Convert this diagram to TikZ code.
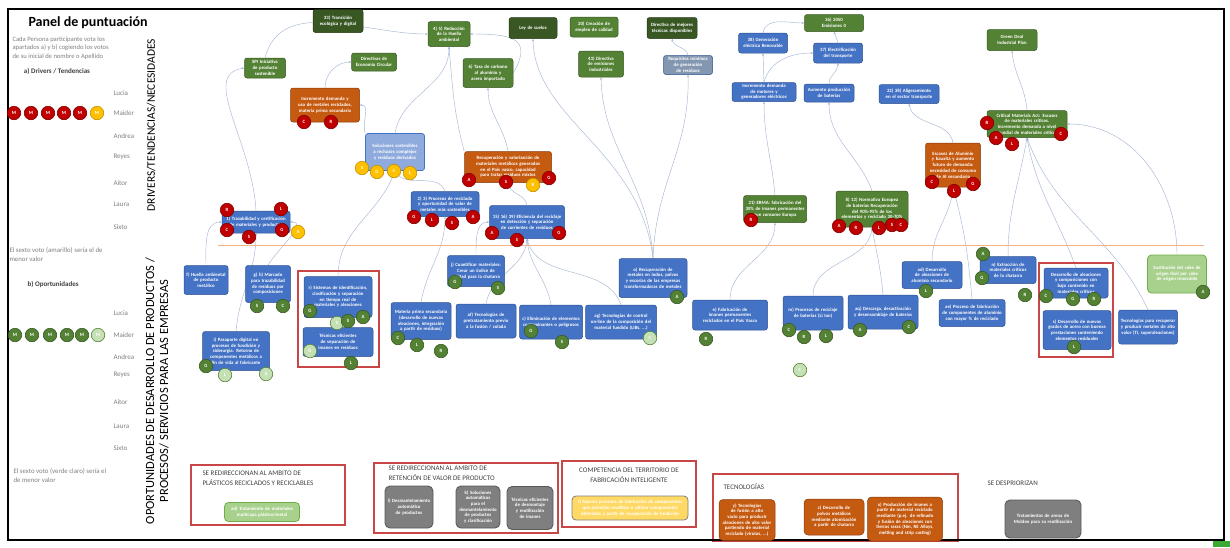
\documentclass[tikz,border=0pt]{standalone}
\usepackage{fontspec}
\setmainfont{Carlito}
\usetikzlibrary{arrows.meta,backgrounds}

\definecolor{colAzul}{HTML}{4472C4}
\definecolor{colAzulB}{HTML}{2F528F}
\definecolor{colAzulC}{HTML}{8FAADC}
\definecolor{colAzulGris}{HTML}{8497B0}
\definecolor{colVerde}{HTML}{548235}
\definecolor{colVerdeO}{HTML}{385723}
\definecolor{colVerdeOO}{HTML}{243A16}
\definecolor{colVerdeC}{HTML}{A9D18E}
\definecolor{colVerdeCC}{HTML}{C5E0B4}
\definecolor{colVerdeB}{HTML}{70AD47}
\definecolor{colNaranja}{HTML}{C55A11}
\definecolor{colNaranjaB}{HTML}{843C0C}
\definecolor{colNaranjaC}{HTML}{F4B183}
\definecolor{colRojo}{HTML}{C00000}
\definecolor{colRojoB}{HTML}{7F0000}
\definecolor{colAmarillo}{HTML}{FFC000}
\definecolor{colAmarilloB}{HTML}{BF9000}
\definecolor{colAmarilloC}{HTML}{FFD966}
\definecolor{colGris}{HTML}{7F7F7F}
\definecolor{colGrisB}{HTML}{595959}
\definecolor{colMarco}{RGB}{200,70,70}
\definecolor{colLinea}{HTML}{A4B6D3}
\definecolor{colTextoG}{HTML}{7F7F7F}
\definecolor{colTextoO}{HTML}{404040}
\definecolor{colMarca}{HTML}{3BAA35}

\newcommand{\letracaja}{\fontsize{4.8}{5.7}\selectfont\bfseries\hyphenpenalty=10000\exhyphenpenalty=10000}
\newcommand{\letravoto}{\fontsize{4.8}{5}\selectfont\bfseries}

\begin{document}
\begin{tikzpicture}[x=1pt,y=-1pt,
    caja/.style={rectangle,rounded corners=2.5pt,line width=0.5pt,text=white,align=center,inner sep=1pt,font=\letracaja},
    tam/.style 2 args={minimum width=#1pt,minimum height=#2pt,text width=#1pt-4pt},
    azul/.style={caja,fill=colAzul,draw=colAzulB},
    azulclaro/.style={caja,fill=colAzulC,draw=colAzul,line width=0.7pt},
    azulgris/.style={caja,fill=colAzulGris,draw=colAzulB},
    verde/.style={caja,fill=colVerde,draw=colVerdeO},
    verdeosc/.style={caja,fill=colVerdeO,draw=colVerdeOO},
    verdeclaro/.style={caja,rounded corners=4pt,fill=colVerdeC,draw=colVerdeB,line width=0.8pt},
    naranja/.style={caja,fill=colNaranja,draw=colNaranjaB},
    gris/.style={caja,rounded corners=5pt,fill=colGris,draw=colGrisB,line width=0.9pt},
    amarillo/.style={caja,rounded corners=4pt,fill=colAmarilloC,draw=colGris,line width=0.8pt},
    voto/.style={circle,minimum size=13.5pt,inner sep=0pt,line width=0.6pt,text=white,font=\letravoto},
    vrojo/.style={voto,fill=colRojo,draw=colRojoB},
    vamarillo/.style={voto,fill=colAmarillo,draw=colAmarilloB},
    vverde/.style={voto,fill=colVerde,draw=colVerdeO},
    vclaro/.style={voto,fill=colVerdeCC,draw=colVerde},
    recuadro/.style={colMarco,line width=1.2pt},
    seccion/.style={anchor=west,text=colTextoO,font=\fontsize{7}{10}\selectfont,align=left},
    nombre/.style={anchor=west,text=colTextoG,font=\fontsize{7}{8}\selectfont},
    nota/.style={anchor=north west,text=colTextoG,align=left},
    enlace/.style={draw=colLinea,line width=0.45pt,-{Stealth[length=2.6pt,width=2.2pt]}}]

    \useasboundingbox (0,0) rectangle (1230,547);
    % Recuadros rojos
    \foreach \xa/\ya/\xb/\yb in {298/271/379/367,1039/263/1113/357,191/465/345/525,374/463/558/533,562/461/696/527,713/474/958/541}
        \draw[recuadro] (\xa,\ya) rectangle (\xb,\yb);
    % Marco
    \draw[line width=1.5pt] (8,9) rectangle (1224,540);
    \fill[colMarca] (1213,541) rectangle (1230,547);

    % Panel de puntuacion
    \node[font=\fontsize{14}{16}\selectfont\bfseries] (titulo) at (88,23) {Panel de puntuación};
    \node[nota,font=\fontsize{6.6}{8.5}\selectfont] (instr) at (9,33) {Cada Persona participante vota los\\apartados a) y b) cogiendo los votos\\de su inicial de nombre o Apellido};
    \node[text=colTextoO,font=\fontsize{7}{8}\selectfont\bfseries] (tdriv) at (57,71) {a) Drivers / Tendencias};
    \foreach \n/\y in {Lucia/93,Maider/113,Andrea/136,Reyes/157,Aitor/183,Laura/204,Sixto/227}
        \node[nombre] (na\y) at (110,\y) {\n};
    \node[nota,font=\fontsize{6.8}{9}\selectfont] (sexto1) at (6,244) {El sexto voto (amarillo) sería el de\\menor valor};
    \node[anchor=west,text=colTextoO,font=\fontsize{7}{8}\selectfont\bfseries] (topor) at (24,284) {b) Oportunidades};
    \foreach \n/\y in {Lucia/313,Maider/335,Andrea/357,Reyes/375,Aitor/402,Laura/426,Sixto/448}
        \node[nombre] (nb\y) at (110,\y) {\n};
    \node[nota,font=\fontsize{6.8}{9}\selectfont] (sexto2) at (10,465) {El sexto voto (verde claro) sería el\\de menor valor};

    % Titulos verticales
    \node[rotate=90,font=\fontsize{11.5}{12}\selectfont] (ejedriv) at (151,125) {DRIVERS/TENDENCIAS/NECESIDADES};
    \node[rotate=90,align=center,font=\fontsize{12.5}{14}\selectfont] (ejeopor) at (157,391) {OPORTUNIDADES DE DESARROLLO DE PRODUCTOS /\\PROCESOS/ SERVICIOS PARA LAS EMPRESAS};

    % Separacion
    \draw[colNaranjaC,line width=0.9pt] (218,245) -- (1204,245);

    % Drivers / tendencias / necesidades
    \node[verdeosc,tam={50}{23}] (t33) at (338,21) {33) Transición ecológica y digital};
    \node[verde,tam={42}{25}] (t45) at (449,34) {4) 5) Reducción de la Huella ambiental};
    \node[verde,tam={41}{20}] (spi) at (265,68) {SPI Iniciativa de producto sostenible};
    \node[verde,tam={45}{18}] (dec) at (374,62) {Directivas de Economía Circular};
    \node[naranja,tam={69}{34}] (incm) at (325,105) {Incremento demanda y uso de metales reciclados, materia prima secundaria};
    \node[azulclaro,tam={59}{37}] (sol) at (395,152) {Soluciones sostenibles a rechazos complejos y residuos derivados};
    \node[azul,tam={68}{22}] (traz) at (256,222) {1) Trazabilidad y certificación de materiales y productos};
    \node[azul,tam={68}{25}] (proc) at (445,204) {2) 3) Procesos de reciclado y oportunidad de valor de metales más sostenibles};
    \node[verdeosc,tam={48}{21}] (ley) at (533,28) {Ley de suelos};
    \node[verde,tam={48}{20}] (emp) at (594,27) {20) Creación de empleo de calidad};
    \node[verdeosc,tam={50}{21}] (dmt) at (672,28) {Directiva de mejores técnicas disponibles};
    \node[verde,tam={50}{29}] (tasa) at (488,73) {6) Tasa de carbono al aluminio y acero importado};
    \node[verde,tam={45}{26}] (dei) at (601,64) {43) Directiva de emisiones industriales};
    \node[azulgris,tam={49}{19}] (req) at (688,65) {Requisitos mínimos de generación de residuos};
    \node[naranja,tam={87}{31}] (recu) at (508,167) {Recuperación y valorización de materiales metálicos generados en el País vasco, capacidad para tratar residuos mixtos};
    \node[azul,tam={75}{33}] (efic) at (527,222) {15) 16) 39) Eficiencia del reciclaje en detección y separación de corrientes de residuos};
    \node[verde,tam={59}{17}] (em0) at (834,23) {36) 2050\\Emisiones 0};
    \node[azul,tam={49}{20}] (gen) at (763,43) {38) Generación eléctrica Renovable};
    \node[azul,tam={49}{20}] (elec) at (838,53) {37) Electrificación del transporte};
    \node[azul,tam={64}{19}] (mot) at (764,92) {Incremento demanda de motores y generadores eléctricos};
    \node[azul,tam={50}{18}] (bat) at (829,93) {Aumento producción de baterías};
    \node[azul,tam={60}{19}] (alig) at (909,94) {22) 38) Aligeramiento en el sector transporte};
    \node[verde,tam={63}{27}] (erma) at (775,209) {21) ERMA: fabricación del 30\% de imanes permanentes que consume Europa};
    \node[verde,tam={72}{36}] (norm) at (872,209) {8) 12) Normativa Europea de baterías Recuperación del 90\%-95\% de los elementos y reciclado 30-70\%};
    \node[naranja,tam={55}{44}] (esc) at (953,165) {Escasez de Aluminio y bauxita y aumento futuro de demanda: necesidad de consumo de Al secundario};
    \node[verde,tam={50}{21}] (gdip) at (1012,40) {Green Deal Industrial Plan};
    \node[verde,tam={80}{27}] (crm) at (1027,124) {Critical Materials Act: Escasez de materiales críticos. Incremento demanda a nivel mundial de materiales críticos};

    % Oportunidades
    \node[azul,tam={44}{29}] (huel) at (206,280) {f) Huella ambiental de producto metálico};
    \node[azul,tam={45}{37}] (marc) at (268,284) {g) h) Marcado para trazabilidad de residuos por composiciones};
    \node[azul,tam={68}{41}] (sist) at (338,297) {r) Sistemas de identificación, clasificación y separación en tiempo real de materiales y aleaciones};
    \node[azul,tam={70}{29}] (tecim) at (338,342) {Técnicas eficientes de separación de imanes en residuos};
    \node[azul,tam={67}{39}] (pasa) at (236,351) {i) Pasaporte digital en procesos de fundición y siderurgia. Retorno de componentes metálicos a fin de vida al fabricante};
    \node[azul,tam={60}{37}] (mps) at (421,321) {Materia prima secundaria (desarrollo de nuevas aleaciones, integración a partir de residuos)};
    \node[azul,tam={57}{31}] (cuan) at (476,271) {j) Cuantificar materiales: Crear un índice de calidad para la chatarra};
    \node[azul,tam={60}{34}] (pret) at (486,321) {af) Tecnologías de pretratamiento previo a la fusión / colada};
    \node[azul,tam={63}{34}] (elim) at (551,322) {c) Eliminación de elementos contaminantes o peligrosos};
    \node[azul,tam={71}{34}] (ctrl) at (621,322) {ag) Tecnologías de control on-line de la composición del material fundido (LIBs, ...)};
    \node[azul,tam={68}{39}] (lodo) at (653,278) {o) Recuperación de metales en lodos, polvos y escorias de las empresas transformadoras de metales};
    \node[azul,tam={75}{30}] (iman) at (730,315) {e) Fabricación de imanes permanentes reciclados en el País Vasco};
    \node[azul,tam={60}{34}] (rbat) at (813,313) {m) Procesos de reciclaje de baterías (Li Ion)};
    \node[azul,tam={70}{34}] (desc) at (883,312) {aq) Descarga, desactivación y desensamblaje de baterías};
    \node[azul,tam={60}{27}] (alu) at (932,275) {ad) Desarrollo de aleaciones de aluminio secundario};
    \node[azul,tam={66}{27}] (fabr) at (972,313) {ae) Proceso de fabricación de componentes de aluminio con mayor \% de reciclado};
    \node[azul,tam={56}{27}] (extr) at (1008,270) {n) Extracción de materiales críticos de la chatarra};
    \node[azul,tam={64}{30}] (bajo) at (1076,283) {Desarrollo de aleaciones y composiciones con bajo contenido en materiales críticos};
    \node[azul,tam={68}{39}] (acer) at (1077,330) {s) Desarrollo de nuevos grados de acero con buenas prestaciones conteniendo elementos residuales};
    \node[verdeclaro,tam={59}{38}] (coke) at (1177,274) {Sustitución del coke de origen fósil por coke de origen renovable};
    \node[azul,tam={59}{34}] (ti) at (1148,327) {Tecnologías para recuperar y producir metales de alto valor (Ti, superaleaciones)};

    % Apartados inferiores
    \node[seccion] (sec1) at (199,478) {SE REDIRECCIONAN AL AMBITO DE\\PLÁSTICOS RECICLADOS Y RECICLABLES};
    \node[verdeclaro,tam={75}{19}] (mult) at (262,512) {ad) Tratamiento de materiales multicapa plástico/metal};
    \node[seccion] (sec2) at (385,473) {SE REDIRECCIONAN AL AMBITO DE\\RETENCIÓN DE VALOR DE PRODUCTO};
    \node[gris,tam={48}{42}] (desm) at (409,507) {l) Desmantelamiento automático de productos};
    \node[gris,tam={44}{42}] (auto) at (478,507) {k) Soluciones automáticas para el desmantelamiento de productos y clasificación};
    \node[gris,tam={46}{43}] (reut) at (530,508) {Técnicas eficientes de desmontaje y reutilización de imanes};
    \node[seccion,anchor=center,align=center] (sec3) at (629,475) {COMPETENCIA DEL TERRITORIO DE\\FABRICACIÓN INTELIGENTE};
    \node[amarillo,tam={116}{24}] (nuev) at (630,508) {t) Nuevos procesos de fabricación de componentes que permitan reutilizar o utilizar componentes obtenidos a partir de recuperación de fundición};
    \node[seccion] (sec4) at (720,487) {TECNOLOGÍAS};
    \node[naranja,rounded corners=4pt,tam={56}{41}] (vac) at (747,520) {y) Tecnologías de fusión a alto vacío para producir aleaciones de alto valor partiendo de material reciclado (virutas, ...)};
    \node[naranja,rounded corners=4pt,tam={60}{36}] (polv) at (834,517) {z) Desarrollo de polvos metálicos mediante atomización a partir de chatarra};
    \node[naranja,rounded corners=4pt,tam={75}{44}] (prim) at (905,519) {x) Producción de imanes a partir de material reciclado mediante (p.ej. de refinado y fusión de aleaciones con tierras raras (Nm, RE Alloys, melting and strip casting)};
    \node[seccion] (sec5) at (984,483) {SE DESPRIORIZAN};
    \node[gris,tam={76}{38}] (aren) at (1043,519) {Tratamientos de arena de Moldeo para su reutilización};

    % Votos
    \foreach \x/\y/\l [count=\i] in {98/335/M,337/323/S,310/351/G,225/375/L,266/374/A,650/338/C,800/370/C}
        \node[vclaro] (l\i) at (\x,\y) {\l};
    \foreach \x/\y/\l [count=\i] in {14/113/M,31/113/M,48/113/M,64/113/M,80/113/M,
        304/122/C,331/122/R,227/210/R,281/209/L,227/230/C,249/237/S,282/230/G,
        414/217/G,432/220/L,452/223/S,473/217/A,469/180/A,506/182/S,549/178/G,
        492/233/A,517/240/S,559/233/G,751/220/R,839/226/A,856/228/R,879/228/L,
        892/225/S,901/225/C,932/182/C,954/191/L,973/184/G,987/123/R,996/138/A,
        1012/144/L,1061/134/C}
        \node[vrojo] (r\i) at (\x,\y) {\l};
    \foreach \x/\y/\l [count=\i] in {97/113/M,362/168/S,377/172/G,394/171/C,410/173/L,298/232/A,533/185/R}
        \node[vamarillo] (a\i) at (\x,\y) {\l};
    \foreach \x/\y/\l [count=\i] in {15/335/M,32/335/M,50/335/M,67/335/M,82/335/M,
        257/306/S,283/306/C,310/311/G,348/321/S,363/317/A,351/363/L,206/366/G,
        398/338/C,417/345/L,441/351/R,455/282/G,498/288/S,531/331/G,562/342/S,
        677/297/A,706/339/R,789/330/C,804/337/R,826/336/L,860/330/A,909/327/C,
        926/291/L,983/254/A,982/278/G,1025/295/R,1046/296/C,1073/299/G,1094/299/R,
        1074/347/L,1203/292/A}
        \node[vverde] (v\i) at (\x,\y) {\l};

    % Relaciones
    \begin{scope}[on background layer]
        \draw[enlace] (traz.north) .. controls (252,140) and (200,75) .. (spi.west);
        \draw[enlace] (spi.north) to[out=75,in=180] (t45.west);
        \draw[enlace] (incm.north) to[out=90,in=180] (dec.west);
        \draw[enlace] (sol.north west) to[out=110,in=0] (incm.east);
        \draw[enlace] (sol.north) to[out=80,in=-90] (t45.south);
        \draw[enlace] (tasa.east) to[out=60,in=0,looseness=1.8] (t45.east);
        \draw[enlace] (recu.north) to[out=100,in=-90] (tasa.south);
        \draw[enlace] (recu.north west) to[out=105,in=-85] (t45.south);
        \draw[enlace] (efic.north) to[out=100,in=-80] (recu.south);
        \draw[enlace] (proc.north) to[out=110,in=-60] (sol.south);
        \draw[enlace] (mps.north) to[out=80,in=-90] (proc.south);
        \draw[enlace] (lodo.north) .. controls (640,150) and (535,120) .. (ley.south);
        \draw[enlace] (lodo.north) .. controls (648,180) and (603,150) .. (dei.south);
        \draw[enlace] (lodo.north) .. controls (656,180) and (690,150) .. (req.south);
        \draw[enlace] (req.north) to[out=100,in=-80] (dmt.south);
        \draw[enlace] (gen.north) to[out=80,in=180] (em0.west);
        \draw[enlace] (elec.north) -- (em0.south);
        \draw[enlace] (mot.north) -- (gen.south);
        \draw[enlace] (mot.north) to[out=75,in=180] (elec.west);
        \draw[enlace] (bat.north) to[out=90,in=-90] (elec.south);
        \draw[enlace] (erma.north) to[out=95,in=-90] (mot.south);
        \draw[enlace] (norm.north) to[out=110,in=-90] (bat.south);
        \draw[enlace] (esc.north) to[out=100,in=-80] (alig.south);
        \draw[enlace] (crm.north) to[out=95,in=-85] (gdip.south);
        \draw[enlace] (huel.north) to[out=90,in=180] (traz.west);
        \draw[enlace] (pasa.north) to[out=85,in=-90] (traz.south);
        \draw[enlace] (marc.north) to[out=60,in=0] (traz.east);
        \draw[enlace] (sist.north) to[out=90,in=-110] (sol.south);
        \draw[enlace] (cuan.north) to[out=90,in=180] (efic.west);
        \draw[enlace] (pret.north) to[out=80,in=-95] (efic.south);
        \draw[enlace] (elim.north) to[out=100,in=-85] (efic.south);
        \draw[enlace] (ctrl.north) to[out=110,in=-75] (efic.south);
        \draw[enlace] (iman.north) to[out=90,in=-90] (erma.south);
        \draw[enlace] (rbat.north) to[out=90,in=-95] (norm.south);
        \draw[enlace] (desc.north) to[out=95,in=-80] (norm.south);
        \draw[enlace] (alu.north) to[out=90,in=-95] (esc.south);
        \draw[enlace] (fabr.north) to[out=95,in=-75] (esc.south);
        \draw[enlace] (extr.north) to[out=90,in=-100] (crm.south);
        \draw[enlace] (bajo.north) to[out=110,in=-80] (crm.south);
        \draw[enlace] (ti.north) to[out=115,in=-70] (crm.south);
        \draw[enlace] (coke.north) to[out=90,in=0] (crm.east);
    \end{scope}
\end{tikzpicture}
\end{document}
